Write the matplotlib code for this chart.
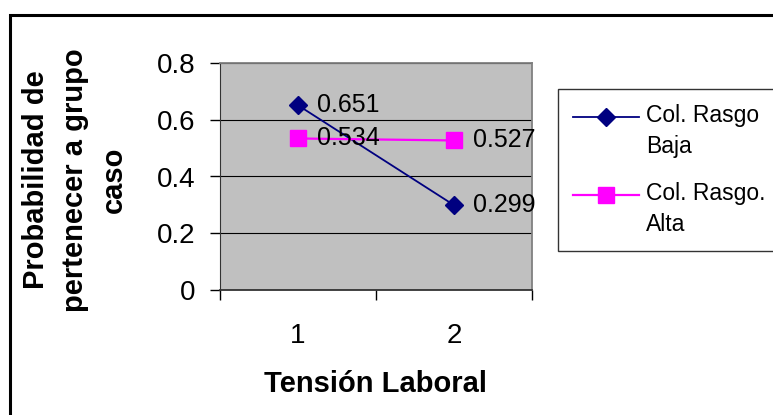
import numpy as np
import matplotlib.pyplot as plt
from matplotlib.patches import Rectangle
from matplotlib.legend_handler import HandlerLine2D

plt.rcParams['font.family'] = ['Liberation Sans', 'DejaVu Sans']

# data
categories = [1, 2]
tick_labels = ["1", "2"]
baja = [0.651, 0.299]
alta = [0.534, 0.527]
series_names = ["Col. Rasgo\nBaja", "Col. Rasgo.\nAlta"]
y_ticks = [0, 0.2, 0.4, 0.6, 0.8]
y_tick_labels = ["0", "0.2", "0.4", "0.6", "0.8"]


class HandlerTopLine(HandlerLine2D):
    # put the legend marker next to the first text line, like Excel does
    def create_artists(self, legend, orig_handle, xdescent, ydescent,
                       width, height, fontsize, trans):
        arts = super().create_artists(legend, orig_handle, xdescent, ydescent,
                                      width, height, fontsize, trans)
        for a in arts:
            a.set_ydata(np.asarray(a.get_ydata()) + 0.66 * fontsize)
        return arts


W, H = 773, 415
fig = plt.figure(figsize=(W / 100, H / 100), dpi=100)

# outer chart border (runs off the right/bottom edge)
fig.patches.append(Rectangle((10 / W, -0.1), 1.2, 1 - 15 / H + 0.1,
                             transform=fig.transFigure, fill=False,
                             edgecolor="black", linewidth=2.2))

ax = fig.add_axes([220 / W, 1 - 290 / H, 312 / W, 227 / H])
ax.set_facecolor("#C0C0C0")

ax.plot(categories, baja, color="#000080", marker="D", markersize=9.5,
        linewidth=1.3, label=series_names[0], zorder=3)
ax.plot(categories, alta, color="#FF00FF", marker="s", markersize=11,
        linewidth=1.6, label=series_names[1], zorder=3)

for x, y in zip(categories, baja):
    ax.annotate(f"{y:.3f}", (x, y), xytext=(14, 0), textcoords="offset points",
                va="center", ha="left", fontsize=18, zorder=4)
for x, y in zip(categories, alta):
    ax.annotate(f"{y:.3f}", (x, y), xytext=(14, 0), textcoords="offset points",
                va="center", ha="left", fontsize=18, zorder=4)

ax.set_xlim(0.5, 2.5)
ax.set_ylim(0, 0.8)
ax.set_yticks(y_ticks)
ax.set_yticklabels(y_tick_labels, fontsize=20)
ax.set_xticks(categories)
ax.set_xticklabels(tick_labels, fontsize=20)
ax.tick_params(axis="x", length=0, pad=24)
ax.set_xticks([0.5, 1.5, 2.5], minor=True)
ax.tick_params(axis="x", which="minor", length=7.5, direction="out", width=1)
ax.tick_params(axis="y", length=7.5, direction="out", width=1, pad=10)

ax.grid(axis="y", color="black", linewidth=0.8)
ax.set_axisbelow(True)
for side in ["top", "right"]:
    ax.spines[side].set_color("#808080")
    ax.spines[side].set_linewidth(1.3)
ax.spines["left"].set_color("#333333")
ax.spines["bottom"].set_color("#333333")
ax.spines["bottom"].set_linewidth(1.3)

ax.set_xlabel("Tensión Laboral", fontsize=21, fontweight="bold", labelpad=15)
fig.text(75 / W, 1 - 180 / H, "Probabilidad de\npertenecer a grupo\ncaso",
         rotation=90, ha="center", va="center", fontsize=21,
         fontweight="bold", multialignment="center", linespacing=1.5)

leg = fig.legend(loc="upper left", bbox_to_anchor=(558 / W, 1 - 89 / H),
                 fontsize=16.5, frameon=True, fancybox=False, handlelength=2.9,
                 labelspacing=1.05, borderpad=0.65, handletextpad=0.3,
                 borderaxespad=0,
                 handler_map={plt.Line2D: HandlerTopLine()})
for t in leg.get_texts():
    t.set_linespacing(1.45)
leg.get_frame().set_edgecolor("black")
leg.get_frame().set_linewidth(1)

fig.savefig("out.png", dpi=100)
